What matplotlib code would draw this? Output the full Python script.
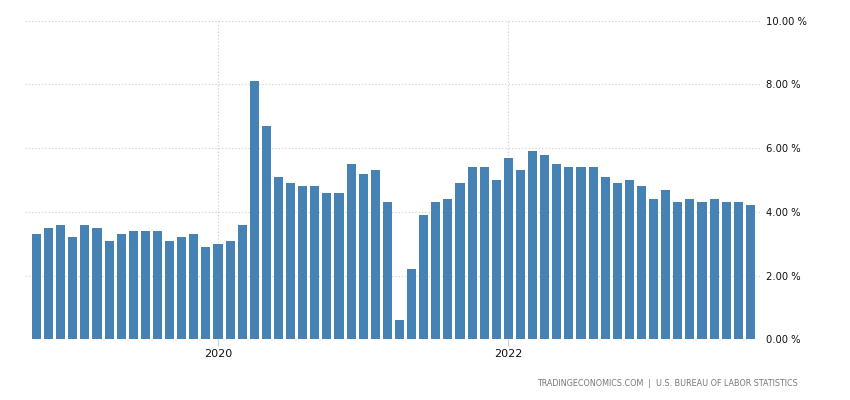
import matplotlib.pyplot as plt
import numpy as np

# monthly values, Oct 2018 .. Sep 2023
months = [f"{y}-{m:02d}" for y in range(2018, 2024) for m in range(1, 13)][9:69]
values = [3.3, 3.5, 3.6,
          3.2, 3.6, 3.5, 3.1, 3.3, 3.4, 3.4, 3.4, 3.1, 3.2, 3.3, 2.9,
          3.0, 3.1, 3.6, 8.1, 6.7, 5.1, 4.9, 4.8, 4.8, 4.6, 4.6, 5.5,
          5.2, 5.3, 4.3, 0.6, 2.2, 3.9, 4.3, 4.4, 4.9, 5.4, 5.4, 5.0,
          5.7, 5.3, 5.9, 5.8, 5.5, 5.4, 5.4, 5.4, 5.1, 4.9, 5.0, 4.8,
          4.4, 4.7, 4.3, 4.4, 4.3, 4.4, 4.3, 4.3, 4.2]
year_labels = ["2020", "2022"]
yticks = [0, 2, 4, 6, 8, 10]

x = np.arange(len(values))
year_pos = [months.index(y + "-01") for y in year_labels]

fig = plt.figure(figsize=(8.5, 4), dpi=100)
ax = fig.add_axes([25 / 850, 1 - 339.3 / 400, 737 / 850, 318.6 / 400])

ax.bar(x, values, width=0.75, color="#4682b4", zorder=2)

ax.set_xlim(-0.95, 59.96)
ax.set_ylim(0, 10)
ax.set_yticks(yticks)
ax.set_yticklabels([f"{v:.2f} %" for v in yticks])
ax.set_xticks(year_pos)
ax.set_xticklabels(year_labels)

ax.yaxis.tick_right()
ax.grid(True, color="#cccccc", linestyle=(0, (1, 2)), linewidth=0.8, zorder=0)
for s in ax.spines.values():
    s.set_visible(False)
ax.tick_params(axis="y", length=0, pad=3, labelsize=7.2, labelcolor="#111111")
ax.tick_params(axis="x", length=5, color="#cccccc", pad=2, labelsize=8, labelcolor="#111111")

fig.text(798 / 850, 1 - 383 / 400, "TRADINGECONOMICS.COM  |  U.S. BUREAU OF LABOR STATISTICS",
         ha="right", va="center", fontsize=5.8, color="#777777")

fig.savefig("out.png", dpi=100)
